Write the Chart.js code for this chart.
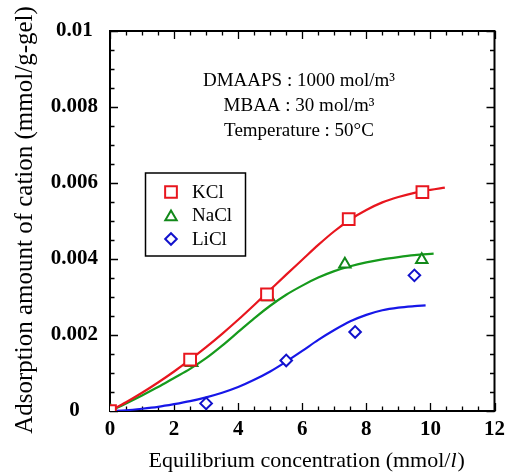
<!DOCTYPE html>
<html><head><meta charset="utf-8">
<script src="https://cdn.jsdelivr.net/npm/chart.js@4/dist/chart.umd.min.js"></script>
<style>html,body{margin:0;padding:0;background:#fff}</style>
</head><body>
<canvas id="c" width="511" height="476"></canvas>
<script>
// ---- data ----
const kclX = [0, 2.5, 4.9, 7.45, 9.75];
const kclY = [0, 0.00135, 0.00307, 0.00505, 0.00576];
const naclX = [0, 2.55, 4.95, 7.33, 9.73];
const naclY = [0, 0.00127, 0.00300, 0.00386, 0.00398];
const liclX = [0, 3.0, 5.5, 7.65, 9.5];
const liclY = [0, 0.0002, 0.00133, 0.00208, 0.00357];

const kclFitX = [0, 0.5, 1, 1.5, 2, 2.5, 3, 3.5, 4, 4.5, 5, 5.5, 6, 6.5, 7, 7.5, 8, 8.5, 9, 9.5, 10, 10.45];
const kclFitY = [0, 0.00023, 0.00048, 0.00075, 0.00104, 0.00135, 0.00168, 0.00203, 0.0024, 0.00279, 0.00319, 0.00359, 0.00398, 0.00437, 0.00473, 0.00504, 0.00529, 0.00549, 0.00563, 0.00574, 0.00582, 0.00588];
const naclFitX = [0, 0.5, 1, 1.5, 2, 2.5, 3, 3.5, 4, 4.5, 5, 5.5, 6, 6.5, 7, 7.5, 8, 8.5, 9, 9.5, 10.1];
const naclFitY = [0, 0.0002, 0.00041, 0.00063, 0.00087, 0.00111, 0.00139, 0.00172, 0.00208, 0.00244, 0.00277, 0.00306, 0.0033, 0.00351, 0.00368, 0.00381, 0.00391, 0.00399, 0.00405, 0.0041, 0.00414];
const liclFitX = [0, 0.5, 1, 1.5, 2, 2.5, 3, 3.5, 4, 4.5, 5, 5.5, 6, 6.5, 7, 7.5, 8, 8.5, 9, 9.5, 9.85];
const liclFitY = [0, 0.00002, 0.00006, 0.00011, 0.00018, 0.00026, 0.00036, 0.00048, 0.00063, 0.00082, 0.00104, 0.0013, 0.00158, 0.00187, 0.00213, 0.00236, 0.00253, 0.00265, 0.00272, 0.00276, 0.00278];

const xTickLabels = ['0', '2', '4', '6', '8', '10', '12'];
const yTickLabels = ['0', '0.002', '0.004', '0.006', '0.008', '0.01'];
const seriesNames = ['KCl', 'NaCl', 'LiCl'];
const noteLines = ['DMAAPS : 1000 mol/m³', 'MBAA : 30 mol/m³', 'Temperature : 50°C'];
const xTitleParts = ['Equilibrium concentration (mmol/', 'l', ')'];
const yTitle = 'Adsorption amount of cation (mmol/g-gel)';

const RED = '#e8161e', GREEN = '#169a1c', BLUE = '#1717e8';
const GREEN_M = '#12891a', BLUE_M = '#1212cc';
const SERIF = '"Liberation Serif", "Times New Roman", serif';

const pts = (xs, ys) => xs.map((x, i) => ({x, y: ys[i]}));

const markerStyles = [
  {pointStyle: 'rect', radius: 8.3, borderColor: RED},
  {pointStyle: 'triangle', radius: 6.6, borderColor: GREEN_M},
  {pointStyle: 'rectRot', radius: 5.8, borderColor: BLUE_M}
];

const framePlugin = {
  id: 'frame',
  beforeDatasetsDraw(chart) {
    const {ctx, chartArea: a, scales: {x, y}} = chart;
    ctx.save();
    ctx.strokeStyle = '#000';
    ctx.lineWidth = 1.3;
    ctx.beginPath();
    for (let v = 0; v <= 12.001; v += 0.5) {
      const px = Math.round(x.getPixelForValue(v)) + 0.5;
      const major = Math.abs(v / 2 - Math.round(v / 2)) < 1e-6;
      const len = major ? 8 : 4.5;
      ctx.moveTo(px, a.bottom); ctx.lineTo(px, a.bottom - len);
      ctx.moveTo(px, a.top); ctx.lineTo(px, a.top + len);
    }
    for (let v = 0; v <= 0.01 + 1e-9; v += 0.0005) {
      const py = Math.round(y.getPixelForValue(v)) + 0.5;
      const major = Math.abs(v / 0.002 - Math.round(v / 0.002)) < 1e-6;
      const len = major ? 8 : 4.5;
      ctx.moveTo(a.left, py); ctx.lineTo(a.left + len, py);
      ctx.moveTo(a.right, py); ctx.lineTo(a.right - len, py);
    }
    ctx.stroke();
    ctx.lineWidth = 2;
    ctx.strokeRect(a.left, a.top, a.right - a.left, a.bottom - a.top);
    ctx.restore();
  },
  afterDraw(chart) {
    const {ctx, chartArea: a} = chart;
    ctx.save();
    ctx.fillStyle = '#000';
    // y title
    ctx.save();
    ctx.translate(25, (a.top + a.bottom) / 2 - 1);
    ctx.rotate(-Math.PI / 2);
    ctx.font = '25px ' + SERIF;
    ctx.textAlign = 'center';
    ctx.textBaseline = 'middle';
    ctx.fillText(yTitle, 0, 0);
    ctx.restore();
    // x title (italic l)
    const fN = '22px ' + SERIF, fI = 'italic 22px ' + SERIF;
    ctx.font = fN; const w0 = ctx.measureText(xTitleParts[0]).width;
    ctx.font = fI; const w1 = ctx.measureText(xTitleParts[1]).width;
    ctx.font = fN; const w2 = ctx.measureText(xTitleParts[2]).width;
    let sx = (a.left + a.right) / 2 + 4 - (w0 + w1 + w2) / 2;
    const by = 467;
    ctx.textAlign = 'left'; ctx.textBaseline = 'alphabetic';
    ctx.font = fN; ctx.fillText(xTitleParts[0], sx, by); sx += w0;
    ctx.font = fI; ctx.fillText(xTitleParts[1], sx, by); sx += w1 + 1;
    ctx.font = fN; ctx.fillText(xTitleParts[2], sx, by);
    // notes
    ctx.font = '19px ' + SERIF;
    ctx.textAlign = 'center'; ctx.textBaseline = 'middle';
    noteLines.forEach((t, i) => ctx.fillText(t, 299, 81 + i * 25));
    // legend
    ctx.lineWidth = 1.5;
    ctx.strokeStyle = '#000';
    ctx.strokeRect(145.5, 173, 100, 83);
    ctx.textAlign = 'left';
    seriesNames.forEach((name, i) => {
      const yy = 192 + i * 23.5;
      const m = markerStyles[i];
      ctx.strokeStyle = m.borderColor; ctx.fillStyle = '#fff'; ctx.lineWidth = 2;
      Chart.helpers.drawPoint(ctx, {pointStyle: m.pointStyle, radius: m.radius, rotation: 0, borderWidth: 2}, 171, m.pointStyle === 'triangle' ? yy + 1.5 : yy);
      ctx.fillStyle = '#000';
      ctx.font = '19px ' + SERIF;
      ctx.fillText(name, 192, yy + 1);
    });
    ctx.restore();
  }
};

const markerDs = (label, xs, ys, i) => ({
  label, data: pts(xs, ys), showLine: false,
  pointStyle: markerStyles[i].pointStyle, pointRadius: markerStyles[i].radius,
  pointBorderColor: markerStyles[i].borderColor, pointBackgroundColor: '#fff',
  pointBorderWidth: 2, pointHoverRadius: markerStyles[i].radius
});
const fitDs = (label, xs, ys, color) => ({
  label, data: pts(xs, ys), showLine: true, borderColor: color, borderWidth: 2.2,
  pointRadius: 0, cubicInterpolationMode: 'monotone', fill: false
});

new Chart(document.getElementById('c'), {
  type: 'scatter',
  data: {
    datasets: [
      markerDs(seriesNames[0], kclX, kclY, 0),
      markerDs(seriesNames[1], naclX, naclY, 1),
      markerDs(seriesNames[2], liclX, liclY, 2),
      fitDs('KCl fit', kclFitX, kclFitY, RED),
      fitDs('NaCl fit', naclFitX, naclFitY, GREEN),
      fitDs('LiCl fit', liclFitX, liclFitY, BLUE)
    ]
  },
  options: {
    responsive: false, animation: false, devicePixelRatio: 1,
    layout: {padding: {top: 31, right: 14, left: 0, bottom: 0}},
    plugins: {legend: {display: false}, tooltip: {enabled: false}},
    scales: {
      x: {
        type: 'linear', min: 0, max: 12,
        grid: {display: false, drawTicks: false}, border: {display: false},
        ticks: {stepSize: 2, padding: 6, color: '#000', font: {family: SERIF, size: 21, weight: 'bold'},
          callback: (v, i) => xTickLabels[i]},
        afterFit: s => { s.height = 65; }
      },
      y: {
        type: 'linear', min: 0, max: 0.01,
        grid: {display: false, drawTicks: false}, border: {display: false},
        ticks: {stepSize: 0.002, padding: 12, crossAlign: 'center', color: '#000',
          font: {family: SERIF, size: 21, weight: 'bold'},
          callback: (v, i) => yTickLabels[i]},
        afterFit: s => { s.width = 110; }
      }
    }
  },
  plugins: [framePlugin]
});
</script>
</body></html>
